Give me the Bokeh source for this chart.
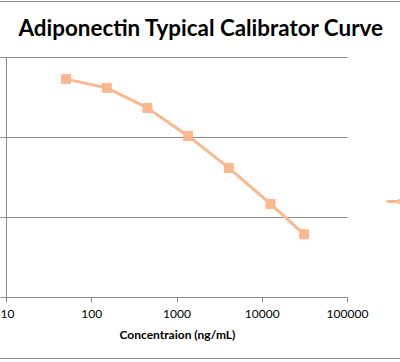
from bokeh.plotting import figure
from bokeh.models import FixedTicker, Range1d, Legend, LegendItem, Title
from bokeh.embed import file_html
from bokeh.resources import INLINE

# ---- data ----
conc = [50, 150, 450, 1350, 4050, 12500, 31000]
od = [2.73, 2.62, 2.37, 2.02, 1.62, 1.17, 0.79]
x_ticks = [10, 100, 1000, 10000, 100000]
x_tick_labels = ["10", "100", "1000", "10000", "100000"]
y_ticks = [0, 1, 2, 3]

title_text = "Adiponectin Typical Calibrator Curve"
x_label = "Concentraion (ng/mL)"
series_name = "Series1"

GRID = "#898989"
ORANGE = "#F9B890"
FONT = "Lato"

W, H = 400, 358
LEFT, AXIS_END = 6, 347          # pixel position of x=10 and x=100000
TOP, BOTTOM = 55, 295            # pixel position of y=3 and y=0 (canvas)
FRAME_TOP = 45                   # frame starts a little above the top gridline

# the frame runs to the right edge so the (cut-off) legend can show
x_end = 10 ** (1 + 4 * (W - LEFT) / (AXIS_END - LEFT))
px_per_unit = (BOTTOM - TOP) / (y_ticks[-1] - y_ticks[0])
y_end = y_ticks[-1] + (TOP - FRAME_TOP) / px_per_unit

p = figure(width=W, height=H, x_axis_type="log",
           x_range=Range1d(x_ticks[0], x_end), y_range=Range1d(y_ticks[0], y_end),
           output_backend="svg", toolbar_location=None,
           min_border_left=LEFT, min_border_right=0,
           min_border_top=FRAME_TOP, min_border_bottom=H - BOTTOM)
p.styles = {"border-top": "1px solid #898989", "border-bottom": "1px solid #898989",
            "margin-top": "1px"}
p.outline_line_color = None
p.background_fill_color = "white"
p.border_fill_color = "white"

# horizontal gridlines, only across the axis extent
n = len(y_ticks)
p.segment(x0=[x_ticks[0]] * n, y0=y_ticks, x1=[x_ticks[-1]] * n, y1=y_ticks,
          line_color=GRID, line_width=1)

r_line = p.line(conc, od, line_color=ORANGE, line_width=3)
r_pts = p.scatter(conc, od, marker="square", size=9, fill_color=ORANGE, line_color=ORANGE)

p.xgrid.visible = False
p.ygrid.visible = False

# x axis
xa = p.xaxis[0]
xa.ticker = FixedTicker(ticks=x_ticks)
xa.bounds = (x_ticks[0], x_ticks[-1])
xa.major_label_overrides = {t: s for t, s in zip(x_ticks, x_tick_labels)}
xa.axis_line_color = GRID
xa.major_tick_line_color = GRID
xa.major_tick_out = 5
xa.major_tick_in = 0
xa.minor_tick_line_color = None
xa.major_label_text_font = FONT
xa.major_label_text_font_size = "12px"
xa.major_label_text_color = "black"
xa.major_label_standoff = 7

# axis label as a left-aligned title below the axis (centred on the axis extent)
xlab = Title(text=x_label, align="left", offset=113, standoff=8,
             text_font=FONT, text_font_style="bold", text_font_size="12px",
             text_color="black")
p.add_layout(xlab, "below")

# y axis (its labels are cropped away in the reference)
ya = p.yaxis[0]
ya.ticker = FixedTicker(ticks=y_ticks)
ya.bounds = (y_ticks[0], y_ticks[-1])
ya.major_label_overrides = {t: "" for t in y_ticks}
ya.axis_line_color = GRID
ya.major_tick_line_color = GRID
ya.major_tick_out = 6
ya.major_tick_in = 0
ya.minor_tick_line_color = None
ya.major_label_standoff = 0

# title
p.title.text = title_text
p.title.align = "left"
p.title.offset = 12
p.title.vertical_align = "top"
p.title.text_font = FONT
p.title.text_font_style = "bold"
p.title.text_font_size = "22.4px"
p.title.text_color = "black"
p.title.standoff = 10

# legend (cut off at the right edge, as in the reference)
legend = Legend(items=[LegendItem(label=series_name, renderers=[r_line, r_pts])],
                location=(380, 90), padding=0, margin=0, glyph_width=28,
                glyph_height=10, label_height=10, border_line_color=None,
                background_fill_alpha=0, label_text_font=FONT,
                label_text_font_size="11px")
p.add_layout(legend, "center")

open("out.html", "w").write(file_html(p, INLINE))
